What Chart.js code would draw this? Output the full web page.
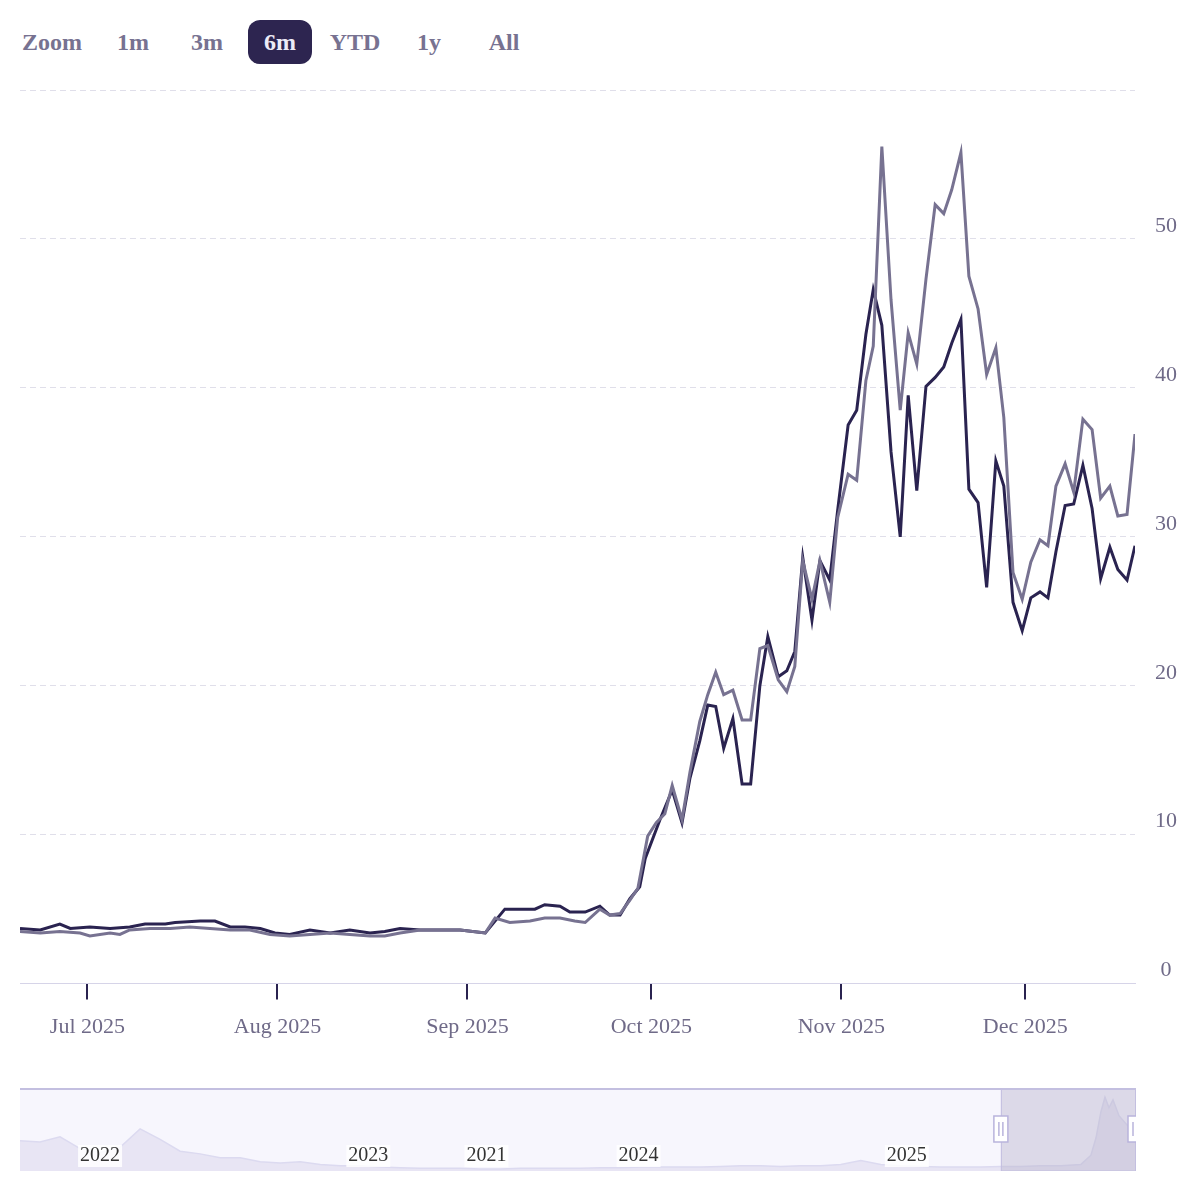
<!DOCTYPE html>
<html><head><meta charset="utf-8">
<script src="https://cdn.jsdelivr.net/npm/chart.js@4"></script>
<style>
body{margin:0;background:#fff;width:1200px;height:1200px;position:relative;overflow:hidden;font-family:"Liberation Serif",serif}
.btn{position:absolute;top:20px;height:44px;line-height:44px;font-weight:bold;font-size:24px;color:#777291;text-align:center}
.sel{background:#2d2550;color:#ecebf7;border-radius:12px}
#main{position:absolute;left:0;top:0}
#nav{position:absolute;left:20px;top:1088px}
</style></head><body>
<div class="btn" style="left:20px;width:64px">Zoom</div>
<div class="btn" style="left:112px;width:42px">1m</div>
<div class="btn" style="left:186px;width:42px">3m</div>
<div class="btn sel" style="left:248px;width:64px">6m</div>
<div class="btn" style="left:326px;width:58px">YTD</div>
<div class="btn" style="left:412px;width:34px">1y</div>
<div class="btn" style="left:484px;width:40px">All</div>
<canvas id="main" width="1200" height="1054"></canvas>
<canvas id="nav" width="1116" height="83"></canvas>
<script>
// days since 2025-06-20
const monthTicks=[11,42,73,103,134,164];
const monthLabels=["Jul 2025","Aug 2025","Sep 2025","Oct 2025","Nov 2025","Dec 2025"];
const yTicks=[0,10,20,30,40,50,60];

const daysA=[0,3.3,6.5,8.2,11.4,14.7,17.9,20.4,23.7,25.3,29.4,31.8,34.3,36.7,39.2,41.6,44,47.3,50.6,53.8,57.1,59.5,62,65.3,68.5,71.8,75.9,79.1,81.6,84,85.6,88.1,89.7,92.2,94.6,96.2,97.9,99.5,101.1,102,104.4,106.4,108,109.3,110.9,112.2,113.5,114.8,116.3,117.8,119.2,120.7,122,123.7,125.1,126.4,127.7,129.2,130.5,132.1,133.4,135.1,136.5,138,139.2,140.6,142.1,143.6,144.9,146.3,147.8,149.3,150.7,152,153.5,154.8,156.3,157.7,159.2,160.5,162,163.5,164.9,166.4,167.7,169,170.5,171.9,173.4,174.9,176.3,177.8,179.1,180.6,181.9];
const valuesA=[3.7,3.6,4.0,3.7,3.8,3.7,3.8,4.0,4.0,4.1,4.2,4.2,3.8,3.8,3.7,3.4,3.3,3.6,3.4,3.6,3.4,3.5,3.7,3.6,3.6,3.6,3.4,5.0,5.0,5.0,5.3,5.2,4.8,4.8,5.2,4.6,4.6,5.7,6.5,8.4,11,13,10.8,13.8,16.3,18.7,18.6,15.8,17.8,13.4,13.4,20,23.3,20.6,21,22.3,28.6,24.4,28.4,27.1,31.8,37.5,38.5,43.6,46.6,44.2,35.7,30,39.5,33.1,40.1,40.7,41.4,43,44.6,33.2,32.3,26.6,35.1,33.4,25.6,23.7,25.9,26.3,25.9,29,32.1,32.2,34.8,31.9,27.2,29.3,27.8,27.1,29.4];

const daysB=[0,3.3,6.5,9.8,11.4,14.7,16.3,17.9,21.2,24.5,27.7,31,34.3,37.5,40.8,44,47.3,50.6,53.8,57.1,59.5,62,65.3,68.5,71.8,75.9,77.5,79.9,83.2,85.6,88.1,90.5,92.2,94.6,96.2,97.9,99.5,100.8,102.4,103.8,105.2,106.4,108,109.3,110.9,112.2,113.5,114.8,116.3,117.8,119.2,120.7,122,123.7,125.1,126.4,127.7,129.2,130.5,132.1,133.4,135.1,136.5,138,139.2,140.6,142.1,143.6,144.9,146.3,147.8,149.3,150.7,152,153.5,154.8,156.3,157.7,159.2,160.5,162,163.5,164.9,166.4,167.7,169,170.5,171.9,173.4,174.9,176.3,177.8,179.1,180.6,181.9];
const valuesB=[3.5,3.4,3.5,3.4,3.2,3.4,3.3,3.6,3.7,3.7,3.8,3.7,3.6,3.6,3.3,3.2,3.3,3.4,3.3,3.2,3.2,3.4,3.6,3.6,3.6,3.4,4.4,4.1,4.2,4.4,4.4,4.2,4.1,5.0,4.6,4.7,5.6,6.4,9.9,10.8,11.4,13.3,11,14.2,17.6,19.4,20.9,19.4,19.7,17.7,17.7,22.5,22.7,20.4,19.6,21.3,28.4,25.8,28.4,25.6,31.3,34.2,33.8,40.5,42.8,56.2,45.9,38.5,43.7,41.6,47.3,52.3,51.7,53.3,55.8,47.5,45.3,40.9,42.7,38,27.6,25.8,28.3,29.8,29.4,33.4,34.9,33,37.9,37.2,32.6,33.4,31.4,31.5,36.9];

// navigator: full history, position index along the navigator
const navX=[0,1,2,3,4,5,6,7,8,9,10,11,12,13,14,15,16,17,18,19,20,21,22,23,24,25,26,27,28,29,30,31,32,33,34,35,36,37,38,39,40,41,42,43,44,45,46,47,48,49,50,51,52,53,53.5,53.75,54,54.2,54.4,54.6,54.9,55.3,55.75];
const navValues=[23,22,26,17,14,18,32,24,15,13,10,10,7,6,7,5,4,4,3,2.5,2,2,2,1.5,1.5,2,2,2,2,2.5,2.5,3,3,3,3,3.5,4,4,3.5,4,4,5,8,5,4,3.5,3,3,3,3.5,3.5,4,4,5,12,25,45,56,48,54,42,35,30];
const navYears=["2022","2023","2021","2024","2025"];
const navYearIdx=[4,17.4,23.3,30.9,44.3];
const navMaskStart=49;

const dark="#2a2350", gray="#777291", txt="#6f6a88";
const toPts=(d,v)=>d.map((x,i)=>({x,y:v[i]}));

const yLabels={id:'yl',afterDraw(c){const s=c.scales.y,g=c.ctx;g.save();g.font='22px "Liberation Serif"';g.fillStyle=txt;g.textAlign='center';g.textBaseline='middle';
 yTicks.forEach(v=>{if(v===60)return;g.fillText(String(v),1166,s.getPixelForValue(v)-13);});g.restore();}};

new Chart(document.getElementById('main'),{type:'line',
 data:{datasets:[
  {data:toPts(daysB,valuesB),borderColor:gray,borderWidth:3,pointRadius:0,tension:0},
  {data:toPts(daysA,valuesA),borderColor:dark,borderWidth:3,pointRadius:0,tension:0}]},
 options:{responsive:false,animation:false,events:[],
  layout:{padding:{left:20,right:65,top:90,bottom:0}},
  plugins:{legend:{display:false},tooltip:{enabled:false}},
  scales:{
   x:{type:'linear',min:0,max:181.9,
    afterBuildTicks:a=>{a.ticks=monthTicks.map(v=>({value:v}));},
    ticks:{autoSkip:false,maxRotation:0,padding:14,color:txt,font:{family:'Liberation Serif',size:22},
     callback:v=>monthLabels[monthTicks.indexOf(v)]},
    grid:{drawOnChartArea:false,tickLength:16,tickColor:'#2a2350',lineWidth:2},
    border:{color:'#d6d4e8',width:1}},
   y:{position:'right',min:0,max:60,
    afterBuildTicks:a=>{a.ticks=yTicks.map(v=>({value:v}));},
    ticks:{display:false},
    grid:{color:'#e0dfea',lineWidth:1,drawTicks:false},
    border:{display:false,dash:[6,4]}}}},
 plugins:[yLabels]});

const navPlug={id:'np',
 beforeDatasetsDraw(c){const a=c.chartArea,g=c.ctx;g.save();g.fillStyle='#f7f6fd';g.fillRect(a.left,a.top,a.right-a.left,a.bottom-a.top);g.restore();},
 afterDatasetsDraw(c){const a=c.chartArea,g=c.ctx,s=c.scales.x;const mx=s.getPixelForValue(navMaskStart);
  g.save();g.fillStyle='rgba(180,176,200,0.4)';g.fillRect(mx,a.top,a.right-mx,a.bottom-a.top);
  g.strokeStyle='#c3bfe0';g.lineWidth=2;g.beginPath();g.moveTo(a.left,a.top+1);g.lineTo(a.right,a.top+1);g.stroke();
  g.lineWidth=1;g.strokeRect(mx+0.5,a.top,a.right-mx-1,a.bottom-a.top);
  g.font='20px "Liberation Serif"';g.textAlign='center';g.textBaseline='middle';
  navYears.forEach((t,i)=>{const x=s.getPixelForValue(navYearIdx[i]);const w=g.measureText(t).width+4;g.fillStyle='rgba(255,255,255,0.85)';g.fillRect(x-w/2,57,w,22);g.fillStyle='#333';g.fillText(t,x,68);});
  [mx,a.right-1].forEach(x=>{g.fillStyle='#fff';g.strokeStyle='#b9b4dc';g.lineWidth=1.5;g.fillRect(x-7,28,14,26);g.strokeRect(x-7,28,14,26);
   g.beginPath();g.moveTo(x-2,34);g.lineTo(x-2,48);g.moveTo(x+2,34);g.lineTo(x+2,48);g.stroke();});
  g.restore();}};

new Chart(document.getElementById('nav'),{type:'line',
 data:{datasets:[{data:navX.map((x,i)=>({x,y:navValues[i]})),borderColor:'#dcdaf0',backgroundColor:'rgba(225,222,240,0.7)',fill:'origin',borderWidth:1.5,pointRadius:0}]},
 options:{responsive:false,animation:false,events:[],layout:{padding:0},
  plugins:{legend:{display:false},tooltip:{enabled:false}},
  scales:{x:{type:'linear',min:0,max:55.75,display:false},y:{min:0,max:63,display:false}}},
 plugins:[navPlug]});
</script></body></html>
